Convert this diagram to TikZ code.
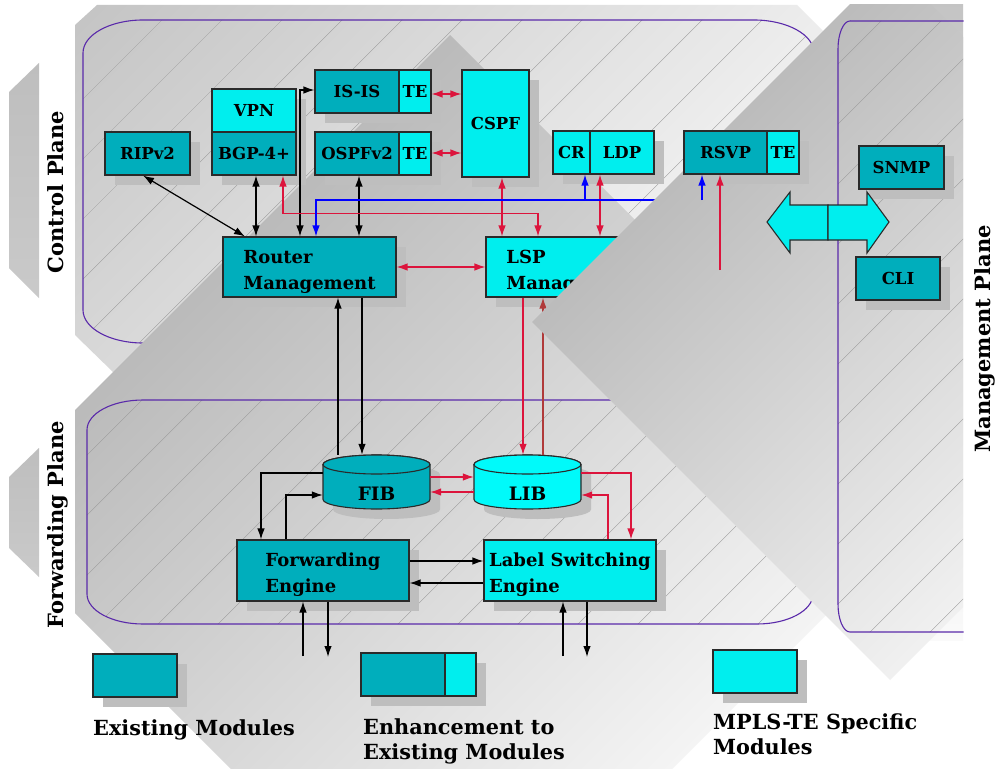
\documentclass[tikz,border=0pt]{standalone}
\usepackage{fontspec}
\setmainfont{DejaVu Serif}
\usetikzlibrary{arrows.meta,shadows}

\definecolor{mteal}{HTML}{00AEBC}
\definecolor{mcyan}{HTML}{00EEEE}
\definecolor{mcyanb}{HTML}{00FAFA}
\definecolor{mred}{HTML}{DC143C}
\definecolor{mbrown}{HTML}{B03A3A}
\definecolor{mblue}{HTML}{0000FF}
\definecolor{mpurple}{HTML}{5A2AAA}
\definecolor{mshadow}{HTML}{BEBEBE}
\definecolor{boxline}{HTML}{2A2A2A}
\definecolor{hatchc}{HTML}{9A9A9A}
\definecolor{sOneA}{gray}{0.773}
\definecolor{sOneB}{gray}{1.0}
\definecolor{bandA}{gray}{0.69}
\definecolor{bandB}{gray}{1.0}
\definecolor{dmA}{gray}{0.694}
\definecolor{dmB}{gray}{0.985}
\definecolor{mgA}{gray}{0.77}
\definecolor{mgB}{gray}{0.98}
\definecolor{chA}{gray}{0.745}
\definecolor{chB}{gray}{0.79}

\newcommand\rrpath[6]{(#1+#5,#2) -- (#3-#5,#2) arc[start angle=90,end angle=0,x radius=#5bp,y radius=#6bp] -- (#3,#4-#6) arc[start angle=0,end angle=-90,x radius=#5bp,y radius=#6bp] -- (#1+#5,#4) arc[start angle=270,end angle=180,x radius=#5bp,y radius=#6bp] -- (#1,#2+#6) arc[start angle=180,end angle=90,x radius=#5bp,y radius=#6bp] -- cycle}
\newcommand\cylpath[4]{(#1,#3) -- (#1,#4) arc[start angle=180,end angle=360,x radius=53.5bp,y radius=9.5bp] -- (#2,#3) arc[start angle=0,end angle=180,x radius=53.5bp,y radius=9.5bp] -- cycle}

\begin{document}
\begin{tikzpicture}[x=1bp,y=-1bp,
  >={Latex[length=11bp,width=7.5bp]},
  bx/.style n args={2}{minimum width=#1bp,minimum height=#2bp},
  mod/.style={draw=boxline,line width=1.1bp,inner sep=0pt,
    font=\bfseries\fontsize{16.5bp}{19bp}\selectfont,
    drop shadow={shadow xshift=10bp,shadow yshift=-10bp,fill=mshadow,opacity=1}},
  ex/.style={mod,fill=mteal},
  mp/.style={mod,fill=mcyan},
  big/.style={font=\bfseries\fontsize{18bp}{26bp}\selectfont,align=left},
  cyl/.style={inner sep=0pt,minimum width=107bp,text height=45bp,text depth=9bp,
    font=\bfseries\fontsize{18.5bp}{22bp}\selectfont},
  conn/.style={line width=1.2bp},
  bk/.style={conn,draw=black},
  rd/.style={conn,draw=mred},
  bl/.style={conn,draw=mblue},
  hatch/.style={draw=hatchc,line width=0.35bp},
  outline/.style={draw=mpurple,line width=1.1bp},
  planelabel/.style={font=\bfseries\fontsize{21bp}{25bp}\selectfont,rotate=90,anchor=base},
  legtext/.style={font=\bfseries\fontsize{20.8bp}{25bp}\selectfont,align=left,anchor=north west,inner sep=0pt},
  arrowshape/.style={fill=mcyan,draw=boxline,line width=1.1bp}
]
\useasboundingbox (0,0) rectangle (996,769);
\fill[white] (0,0) rectangle (996,769);

% side chevrons
\shade[top color=chA,bottom color=chB] (9,92) -- (39,63) -- (39,298) -- (9,268) -- cycle;
\shade[top color=chA,bottom color=chB] (9,477) -- (39,448) -- (39,577) -- (9,548) -- cycle;

% control plane panel (diagonal gradient through a square shading)
\begin{scope}
  \clip (75,25) -- (97,5) -- (797,5) -- (830,38) -- (830,372) -- (113,372) -- (75,335) -- cycle;
  \shade[top color=sOneA,bottom color=sOneB,shading angle=45] (72,-192) rectangle (832,568);
\end{scope}
\begin{scope}
  \clip \rrpath{83}{20}{814}{343}{60}{33};
  \foreach \k in {2,62,...,1622} \draw[hatch] (\k,0) -- (\k-1000,1000);
\end{scope}
\draw[outline] \rrpath{83}{20}{814}{343}{60}{33};

% darker band and forwarding plane base
\begin{scope}
  \clip (75,25) -- (97,5) -- (797,5) -- (830,38) -- (830,372) -- (113,372) -- (75,335) -- cycle
        (113,372) -- (830,372) -- (830,611) -- (672,769) -- (231,769) -- (75,613) -- (75,410) -- cycle;
  \shade[top color=bandA,bottom color=bandB,shading angle=45] (450,35) -- (1000,585) -- (1000,900) -- (0,900) -- (0,485) -- cycle;
\end{scope}

% forwarding plane panel
\begin{scope}
  \clip \rrpath{87}{400}{813}{624}{56}{30};
  \foreach \k in {2,62,...,1622} \draw[hatch] (\k,0) -- (\k-1000,1000);
\end{scope}
\draw[outline] \rrpath{87}{400}{813}{624}{56}{30};

% management plane base
\shade[top color=mgA,bottom color=mgB] (850,5) rectangle (963,640);

% plane labels
\node[planelabel] (cpl) at (63,192) {Control Plane};
\node[planelabel] (fpl) at (63,525) {Forwarding Plane};
\node[planelabel] (mpl) at (990,339) {Management Plane};

% control plane modules
\node[ex,bx={85}{43}] (rip) at (147.5,153.5) {RIPv2};
\node[mp,bx={84}{43}] (vpn) at (254,110.5) {VPN};
\node[ex,bx={84}{43}] (bgp) at (254,153.5) {BGP-4+};
\node[ex,bx={84}{43}] (isis) at (357,91.5) {IS-IS};
\node[mp,bx={32}{43}] (isiste) at (415,91.5) {TE};
\node[ex,bx={84}{43}] (ospf) at (357,153.5) {OSPFv2};
\node[mp,bx={32}{43}] (ospfte) at (415,153.5) {TE};
\node[mp,bx={67}{107}] (cspf) at (495.5,123.5) {CSPF};
\node[mp,bx={37}{43}] (cr) at (571.5,152.5) {CR};
\node[mp,bx={64}{43}] (ldp) at (622,152.5) {LDP};
\node[ex,big,bx={173}{60}] (rm) at (309.5,267) {\rule{0pt}{22bp}Router\\Management};
\node[mp,big,bx={173}{60}] (lsp) at (572.5,267) {\rule{0pt}{22bp}LSP\\Management};

% forwarding plane modules
\fill[mshadow] \cylpath{333}{440}{474.5}{509.5};
\filldraw[fill=mteal,draw=boxline,line width=1.1bp] \cylpath{323}{430}{464.5}{499.5};
\filldraw[fill=mteal,draw=boxline,line width=1.1bp] (376.5,464.5) ellipse [x radius=53.5bp,y radius=9.5bp];
\node[cyl] (fib) at (376.5,482) {FIB};
\fill[mshadow] \cylpath{484}{591}{474.5}{509.5};
\filldraw[fill=mcyanb,draw=boxline,line width=1.1bp] \cylpath{474}{581}{464.5}{499.5};
\filldraw[fill=mcyanb,draw=boxline,line width=1.1bp] (527.5,464.5) ellipse [x radius=53.5bp,y radius=9.5bp];
\node[cyl] (lib) at (527.5,482) {LIB};
\node[ex,big,bx={172}{61}] (fe) at (323,570.5) {\rule{0pt}{22bp}Forwarding\\Engine};
\node[mp,big,bx={172}{61}] (lse) at (570,570.5) {\rule{0pt}{22bp}Label Switching\\Engine};

% legend
\node[ex,bx={84}{43}] (legex) at (135,675.5) {};
\node[ex,bx={84}{43}] (legen) at (403,674.5) {};
\node[mp,bx={31}{43}] (legente) at (460.5,674.5) {};
\node[mp,bx={84}{43}] (legmp) at (755,671.5) {};
\node[legtext] (legexT) at (93,719) {Existing Modules};
\node[legtext] (legenT) at (363,718) {Enhancement to\\Existing Modules};
\node[legtext] (legmpT) at (713,713) {MPLS-TE Specific\\Modules};

% black connectors
\draw[bk,<->] (rip.south -| 143,0) -- (rm.north -| 245,0);
\draw[bk,<->] (bgp.south -| 256,0) -- (rm.north -| 256,0);
\draw[bk,<->] (rm.north -| 300,0) |- (isis.west |- 0,90);
\draw[bk,<->] (ospf.south -| 359,0) -- (rm.north -| 359,0);
\draw[bk,->] (fib.north -| 338,0) -- (rm.south -| 338,0);
\draw[bk,->] (rm.south -| 362,0) -- (fib.north -| 362,0);
\draw[bk,->] (fib.west |- 0,473) -| (fe.north -| 261,0);
\draw[bk,->] (fe.north -| 286,0) |- (fib.west |- 0,495);
\draw[bk,->] (fe.east |- 0,561) -- (lse.west |- 0,561);
\draw[bk,->] (lse.west |- 0,583) -- (fe.east |- 0,583);
\coordinate (fein) at (303,656);
\coordinate (feout) at (328,657);
\coordinate (lsein) at (563,656);
\coordinate (lseout) at (587,657);
\draw[bk,->] (fein) -- (fe.south -| fein);
\draw[bk,->] (fe.south -| feout) -- (feout);
\draw[bk,->] (lsein) -- (lse.south -| lsein);
\draw[bk,->] (lse.south -| lseout) -- (lseout);

% red connectors
\draw[rd,<->] (isiste.east |- 0,94) -- (cspf.west |- 0,94);
\draw[rd,<->] (ospfte.east |- 0,153) -- (cspf.west |- 0,153);
\draw[rd,<->] (cspf.south -| 502,0) -- (lsp.north -| 502,0);
\draw[rd,<->] (bgp.south -| 283,0) -- ++(0,38) -| (lsp.north -| 538,0);
\draw[rd,<->] (ldp.south -| 600,0) -- (lsp.north -| 600,0);
\draw[rd,<->] (rm.east) -- (lsp.west);
\draw[rd,->] (lsp.south -| 523,0) -- (lib.north -| 523,0);
\draw[conn,draw=mbrown,->] (lib.north -| 543,0) -- (lsp.south -| 543,0);
\draw[rd,->] (fib.east |- 0,477) -- (lib.west |- 0,477);
\draw[rd,->] (lib.west |- 0,492) -- (fib.east |- 0,492);
\draw[rd,->] (lib.east |- 0,473) -| (lse.north -| 631,0);
\draw[rd,->] (lse.north -| 608,0) |- (lib.east |- 0,495);

% blue connectors
\coordinate (bj) at (702,200);
\coordinate (bcr) at (585,200);
\draw[bl,->] (bj) -| (rm.north -| 316,0);
\draw[bl,->] (bcr) -- (cr.south -| bcr);

% management diamond overlay
\begin{scope}
  \clip (0,5) rectangle (963,769);
  \shade[top color=dmA,bottom color=dmB,shading angle=45] (532,322) -- (890,-36) -- (1248,322) -- (890,680) -- cycle;
\end{scope}
\begin{scope}
  \clip (0,5) rectangle (963,769);
  \clip \rrpath{838}{21}{1100}{632}{12}{28};
  \foreach \k in {2,62,...,1622} \draw[hatch] (\k,0) -- (\k-1000,1000);
\end{scope}
\begin{scope}
  \clip (0,0) rectangle (963.5,769);
  \draw[outline] \rrpath{838}{21}{1100}{632}{12}{28};
\end{scope}

% modules over the overlay
\node[ex,bx={83}{43}] (rsvp) at (725.5,152.5) {RSVP};
\node[mp,bx={32}{43}] (rsvpte) at (783,152.5) {TE};
\node[ex,bx={85}{43}] (snmp) at (901.5,167.5) {SNMP};
\node[ex,bx={84}{43}] (cli) at (898,278.5) {CLI};
\draw[arrowshape] (767,222) -- (790,192) -- (790,205) -- (828,205) -- (828,240) -- (790,240) -- (790,253) -- cycle;
\draw[arrowshape] (828,205) -- (867,205) -- (867,192) -- (889,222) -- (867,253) -- (867,240) -- (828,240) -- cycle;
\draw[bl,->] (bj) -- (rsvp.south -| bj);
\coordinate (rsvpin) at (720,270);
\draw[rd,->] (rsvpin) -- (rsvp.south -| rsvpin);
\end{tikzpicture}
\end{document}
